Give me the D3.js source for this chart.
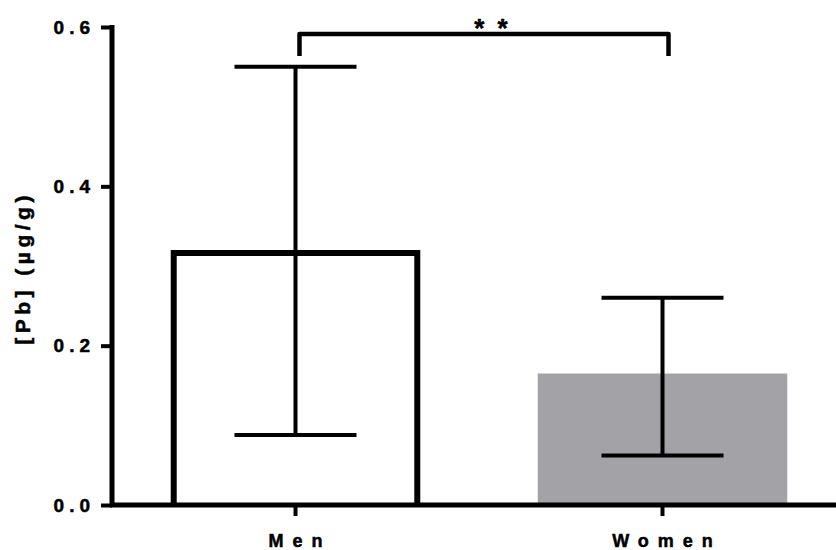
<!DOCTYPE html>
<html>
<head>
<meta charset="utf-8">
<script src="https://cdn.jsdelivr.net/npm/d3@7"></script>
<style>
  body { margin: 0; background: #fff; }
  svg { display: block; font-family: "Liberation Sans", Arial, sans-serif; font-weight: bold; }
  svg text { stroke: #000; stroke-width: 0.5px; }
</style>
</head>
<body>
<svg id="chart" width="836" height="550"></svg>
<script>
"use strict"

const groups = ["Men", "Women"]
const means = [0.32, 0.165]
const errLow = [0.088, 0.062]
const errHigh = [0.55, 0.26]
const yTicks = [0, 0.2, 0.4, 0.6]
const sigLabel = "* *"

const svg = d3.select("#chart")

const y = d3.scaleLinear().domain([0, 0.6]).range([505, 27])
const x = d3.scaleBand().domain(groups).range([112, 846])
    .paddingInner(0.32).paddingOuter(0.16)

const capW = 122
const barStroke = 6

// bars: first one is an open box (no bottom edge), second is filled grey
svg.selectAll(".bar")
    .data(groups)
    .enter()
    .append("path")
    .attr("class", "bar")
    .attr("d", (d, i) => {
        if (i === 0) {
            const x0 = x(d) + barStroke / 2, x1 = x(d) + x.bandwidth() - barStroke / 2
            const yt = y(means[i]) + barStroke / 2
            return "M" + x0 + "," + y(0) + "V" + yt + "H" + x1 + "V" + y(0)
        }
        return "M" + x(d) + "," + y(0) + "V" + y(means[i]) + "H" + (x(d) + x.bandwidth()) + "V" + y(0) + "Z"
    })
    .style("fill", (d, i) => i === 0 ? "none" : "#a3a2a7")
    .style("stroke", (d, i) => i === 0 ? "#000" : "none")
    .style("stroke-width", barStroke)

// error bars
const err = svg.selectAll(".err")
    .data(groups)
    .enter()
    .append("g")
    .attr("class", "err")
    .attr("transform", d => "translate(" + (x(d) + x.bandwidth() / 2) + ",0)")
    .style("stroke", "#000")
    .style("stroke-width", 4)

err.append("line")
    .attr("y1", (d, i) => y(errLow[i]))
    .attr("y2", (d, i) => y(errHigh[i]))
err.append("line")
    .attr("x1", -capW / 2).attr("x2", capW / 2)
    .attr("y1", (d, i) => y(errHigh[i])).attr("y2", (d, i) => y(errHigh[i]))
err.append("line")
    .attr("x1", -capW / 2).attr("x2", capW / 2)
    .attr("y1", (d, i) => y(errLow[i])).attr("y2", (d, i) => y(errLow[i]))

// y axis
const yAxis = d3.axisLeft(y).tickValues(yTicks).tickFormat(d3.format(".1f"))
    .tickSizeInner(11).tickSizeOuter(0).tickPadding(10)
const gy = svg.append("g")
    .attr("transform", "translate(112,0)")
    .call(yAxis)
gy.attr("font-size", null).attr("font-family", null)
gy.select(".domain").attr("d", "M0," + (y(0.6) - 2) + "V" + (y(0) + 2))
    .style("stroke", "#000").style("stroke-width", 5)
gy.selectAll(".tick line").style("stroke-width", 4)
gy.selectAll(".tick text")
    .attr("x", -17)
    .style("font-size", "19px")
    .style("letter-spacing", "5px")
    .attr("fill", "#000")

// x axis
const xAxis = d3.axisBottom(x).tickSizeInner(11).tickSizeOuter(0).tickPadding(18)
const gx = svg.append("g")
    .attr("transform", "translate(0," + y(0) + ")")
    .call(xAxis)
gx.attr("font-size", null).attr("font-family", null)
gx.select(".domain").attr("d", "M110,0H836")
    .style("stroke", "#000").style("stroke-width", 5)
gx.selectAll(".tick line").style("stroke-width", 4)
gx.selectAll(".tick text")
    .attr("dy", null)
    .attr("y", 42)
    .attr("dx", 4.5)
    .style("font-size", "18px")
    .style("letter-spacing", "9px")
    .attr("fill", "#000")

// y label
svg.append("text")
    .attr("transform", "translate(30," + 270 + ") rotate(-90)")
    .attr("text-anchor", "middle")
    .attr("dx", 2)
    .style("font-size", "21px")
    .style("letter-spacing", "4.5px")
    .text("[Pb] (µg/g)")

// significance bracket
const xa = x(groups[0]) + x.bandwidth() / 2 + 4
const xb = x(groups[1]) + x.bandwidth() / 2 + 6
const yb = 34
svg.append("path")
    .attr("d", "M" + xa + ",56V" + yb + "H" + xb + "V56")
    .style("fill", "none")
    .style("stroke", "#000")
    .style("stroke-width", 4.5)
    .style("stroke-linejoin", "round")
svg.append("text")
    .attr("x", 492.5)
    .attr("y", 37)
    .attr("text-anchor", "middle")
    .style("font-size", "26px")
    .style("letter-spacing", "3px")
    .text(sigLabel)
</script>
</body>
</html>
